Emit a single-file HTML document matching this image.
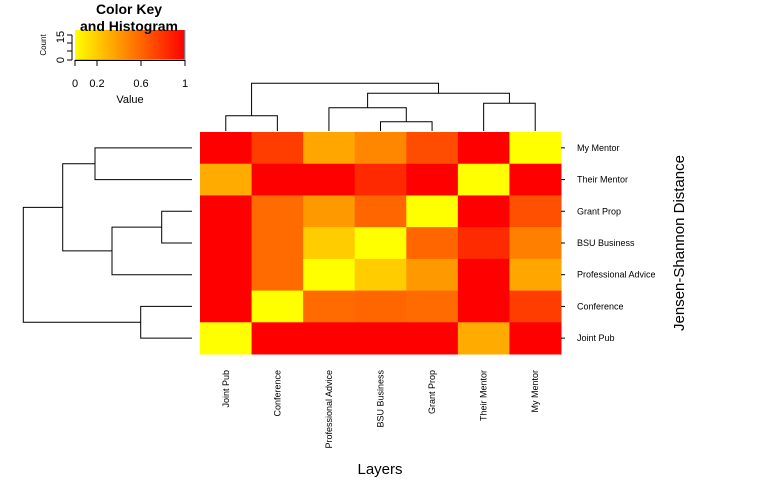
<!DOCTYPE html>
<html><head><meta charset="utf-8"><style>
html,body{margin:0;padding:0;background:#fff;}
svg{display:block;font-family:"Liberation Sans",Arial,sans-serif;}
</style></head><body>
<svg id="chart" width="780" height="494" viewBox="0 0 780 494">
</svg>
<script>
const cols = ["Joint Pub","Conference","Professional Advice","BSU Business","Grant Prop","Their Mentor","My Mentor"];
const rows = ["My Mentor","Their Mentor","Grant Prop","BSU Business","Professional Advice","Conference","Joint Pub"];
const rowMyMentor = [1,0.76,0.35,0.47,0.70,1,0];
const rowTheirMentor = [0.33,1,1,0.84,1,0,1];
const rowGrantProp = [1,0.58,0.40,0.60,0,1,0.69];
const rowBSUBusiness = [1,0.58,0.20,0,0.60,0.83,0.50];
const rowProfAdvice = [1,0.58,0,0.20,0.40,1,0.35];
const rowConference = [1,0,0.58,0.60,0.58,1,0.76];
const rowJointPub = [0,1,1,1,1,0.33,1];
const values = [rowMyMentor,rowTheirMentor,rowGrantProp,rowBSUBusiness,rowProfAdvice,rowConference,rowJointPub];
const keyTicks = [0,0.2,0.6,1];

const NS="http://www.w3.org/2000/svg";
const svg=document.getElementById('chart');
function mk(tag,attrs,parent){const e=document.createElementNS(NS,tag);for(const k in attrs)e.setAttribute(k,attrs[k]);(parent||svg).appendChild(e);return e;}
const X0=200,X1=561,Y0=132,Y1=354;
const cw=(X1-X0)/cols.length, rh=(Y1-Y0)/rows.length;
const xCol=i=>X0+cw*i, yRow=j=>Y0+rh*j;
const color=v=>`rgb(255,${Math.round(255*(1-v))},0)`;

const g=mk('g',{});


values.forEach((r,j)=>r.forEach((v,i)=>{
  const c=mk('rect',{x:xCol(i),y:yRow(j),width:cw+0.5,height:rh+0.5,fill:color(v)},g);
  
  
}));

// row labels
rows.forEach((n,j)=>{
  const t=mk('text',{x:577,y:yRow(j)+rh/2+3,'font-size':9,fill:'#000'});
  t.textContent=n;
  
  
  mk('line',{x1:561,x2:565,y1:yRow(j)+rh/2,y2:yRow(j)+rh/2,stroke:'#000'});
});
// column labels
cols.forEach((n,i)=>{
  const cx=xCol(i)+cw/2+3;
  const t=mk('text',{x:0,y:0,'font-size':9,'text-anchor':'end',transform:`translate(${cx},370) rotate(-90)`});
  t.textContent=n;
  
  
});
// titles
let t=mk('text',{x:380,y:474,'font-size':15,'text-anchor':'middle'});t.textContent='Layers';

t=mk('text',{x:0,y:0,'font-size':15,'text-anchor':'middle',transform:'translate(684,243) rotate(-90)'});t.textContent='Jensen-Shannon Distance';


// dendrograms
const cc=i=>xCol(i)+cw/2, rc=j=>yRow(j)+rh/2;
const dg=mk('g',{stroke:'#000','stroke-width':1,fill:'none'});

function U(x1,x2,yb1,yb2,yt){mk('path',{d:`M${x1},${yb1}V${yt}H${x2}V${yb2}`},dg);}
// top (columns)
U(cc(0),cc(1),131,131,115.7);
U(cc(3),cc(4),131,131,121.7);
U(cc(2),(cc(3)+cc(4))/2,131,121.7,107.7);
U(cc(5),cc(6),131,131,103.3);
const pa=(cc(2)+(cc(3)+cc(4))/2)/2, mm=(cc(5)+cc(6))/2;
U(pa,mm,107.7,103.3,93.3);
U((cc(0)+cc(1))/2,(pa+mm)/2,115.7,93.3,83.3);
// left (rows)
function L(y1,y2,xr1,xr2,xl){mk('path',{d:`M${xr1},${y1}H${xl}V${y2}H${xr2}`},dg);}
L(rc(0),rc(1),192,192,95);
L(rc(2),rc(3),192,192,161.7);
L((rc(2)+rc(3))/2,rc(4),161.7,192,112);
const gp=((rc(2)+rc(3))/2+rc(4))/2;
L((rc(0)+rc(1))/2,gp,95,112,62.7);
L(rc(5),rc(6),192,192,140.7);
L(((rc(0)+rc(1))/2+gp)/2,(rc(5)+rc(6))/2,62.7,140.7,23.3);

// color key
const kg=mk('g',{});

const defs=mk('defs',{},kg);
const lg=mk('linearGradient',{id:'kgrad',x1:0,x2:1,y1:0,y2:0},defs);
mk('stop',{offset:0,'stop-color':'#ffff00'},lg);
mk('stop',{offset:1,'stop-color':'#ff0000'},lg);
const KX0=75,KX1=185;
mk('rect',{x:KX0,y:30,width:KX1-KX0,height:30,fill:'url(#kgrad)'},kg);
mk('line',{x1:KX0,x2:KX1,y1:60,y2:60,stroke:'#00e5ee','stroke-width':1.5},kg);
mk('line',{x1:KX1,x2:KX1,y1:30,y2:60,stroke:'#00e5ee','stroke-width':1},kg);
mk('line',{x1:KX0,x2:KX1,y1:60.5,y2:60.5,stroke:'#000'},kg);
keyTicks.forEach(v=>{
  const x=KX0+(KX1-KX0)*v;
  mk('line',{x1:x,x2:x,y1:60,y2:66,stroke:'#000'},kg);
  const tt=mk('text',{x:x,y:87,'font-size':11,'text-anchor':'middle'},kg);tt.textContent=String(v);
});
mk('path',{d:'M72,35V60M67,35H72M67,43H72M67,51H72M67,60H72',stroke:'#000',fill:'none'},kg);
t=mk('text',{x:0,y:0,'font-size':11,'text-anchor':'middle',transform:'translate(64,60) rotate(-90)'},kg);t.textContent='0';
t=mk('text',{x:0,y:0,'font-size':11,'text-anchor':'middle',transform:'translate(64,37) rotate(-90)'},kg);t.textContent='15';
t=mk('text',{x:0,y:0,'font-size':8,'text-anchor':'middle',transform:'translate(46,45) rotate(-90)'},kg);t.textContent='Count';
t=mk('text',{x:130,y:103,'font-size':11,'text-anchor':'middle'},kg);t.textContent='Value';
t=mk('text',{x:129,y:14,'font-size':14,'font-weight':'bold','text-anchor':'middle'},kg);t.textContent='Color Key';
t=mk('text',{x:129,y:31,'font-size':14,'font-weight':'bold','text-anchor':'middle'},kg);t.textContent='and Histogram';
</script>
</body></html>
